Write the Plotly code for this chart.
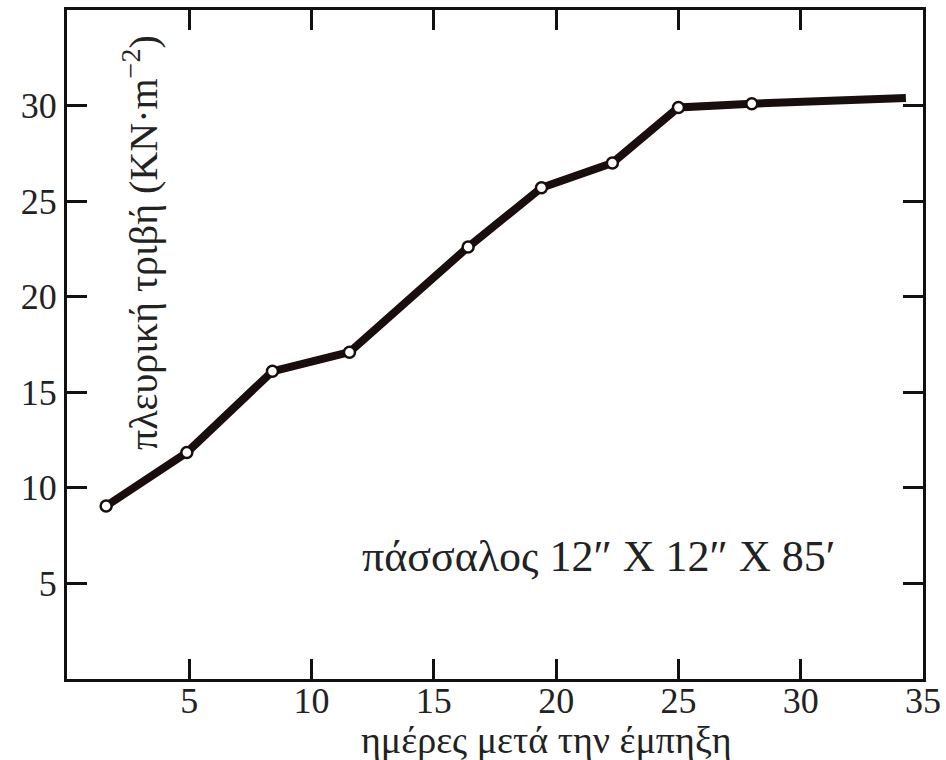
import plotly.graph_objects as go

# Data
days = [1.6, 4.9, 8.4, 11.55, 16.4, 19.4, 22.3, 25.0, 28.0, 34.3]
friction = [9.05, 11.85, 16.1, 17.1, 22.6, 25.7, 27.0, 29.9, 30.1, 30.4]
marker_days = days[:-1]
marker_friction = friction[:-1]

x_ticks = [5, 10, 15, 20, 25, 30, 35]
y_ticks = [5, 10, 15, 20, 25, 30]

FONT = "Liberation Serif, Times New Roman, DejaVu Serif, serif"
INK = "#1a0d0d"

L, R, T, B = 67, 23, 10, 81
PW, PH = 946 - L - R, 760 - T - B


def px(xp):
    return (xp - L) / PW


def py(yp):
    return (760 - B - yp) / PH


fig = go.Figure()
fig.add_trace(go.Scatter(
    x=days, y=friction, mode="lines",
    line=dict(color=INK, width=8),
    hoverinfo="skip", showlegend=False,
))
fig.add_trace(go.Scatter(
    x=marker_days, y=marker_friction, mode="markers",
    marker=dict(symbol="circle", size=11, color="white",
                line=dict(color=INK, width=2.5)),
    showlegend=False,
))

axis_common = dict(
    showline=True, linewidth=3, linecolor="#111", mirror="ticks",
    ticks="inside", ticklen=20, tickwidth=3, tickcolor="#111",
    showgrid=False, zeroline=False, automargin=False,
    tickfont=dict(family=FONT, size=36, color="#222"),
)

fig.update_layout(
    width=946, height=760,
    margin=dict(l=L, r=R, t=T, b=B, autoexpand=False),
    paper_bgcolor="white", plot_bgcolor="white",
    font=dict(family=FONT, color="#222"),
    xaxis=dict(range=[0, 35], tickvals=x_ticks,
               ticktext=[str(v) for v in x_ticks], ticklabelstandoff=-12,
               **axis_common),
    yaxis=dict(range=[0, 35], tickvals=y_ticks,
               ticktext=[str(v) for v in y_ticks], **axis_common),
    annotations=[
        dict(text="πλευρική τριβή (KN·m<sup>−2</sup>)", textangle=-90,
             xref="paper", yref="paper", x=px(140), y=py(243),
             showarrow=False, font=dict(family=FONT, size=40, color="#222"),
             xanchor="center", yanchor="middle"),
        dict(text="ημέρες μετά την έμπηξη",
             xref="paper", yref="paper", x=px(546), y=py(740),
             showarrow=False, font=dict(family=FONT, size=38, color="#222"),
             xanchor="center", yanchor="middle"),
        dict(text="πάσσαλος 12″ X 12″ X 85′",
             xref="paper", yref="paper", x=px(598), y=py(556),
             showarrow=False, font=dict(family=FONT, size=44, color="#222"),
             xanchor="center", yanchor="middle"),
    ],
)

fig.write_html("out.html", config={"displayModeBar": False},
               post_script="document.body.style.margin='0';document.body.style.padding='0';")
